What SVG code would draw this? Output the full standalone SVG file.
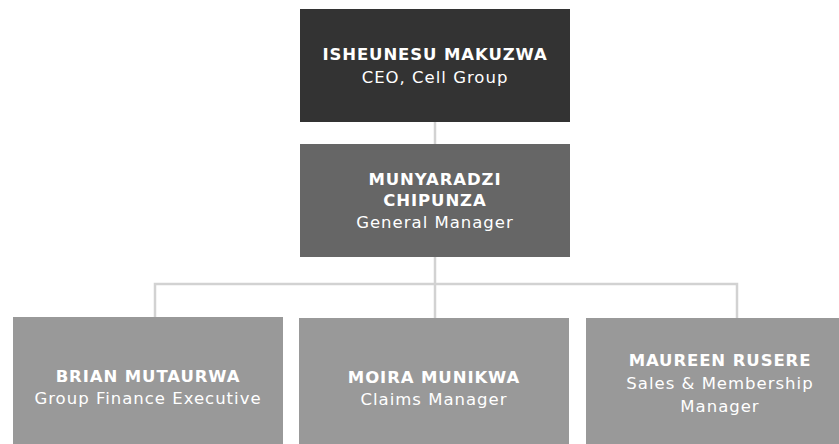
<svg xmlns="http://www.w3.org/2000/svg" width="839" height="444" viewBox="0 0 839 444">
<style>
.n{font-family:"DejaVu Sans","Liberation Sans",sans-serif;font-size:16.5px;font-weight:bold;fill:#ffffff;text-anchor:middle;letter-spacing:0.9px}
.t{font-family:"DejaVu Sans","Liberation Sans",sans-serif;font-size:16.5px;fill:#ffffff;text-anchor:middle;letter-spacing:1px}
.c{fill:none;stroke:#d2d2d2;stroke-width:2.5}
</style>
<rect width="839" height="444" fill="#ffffff"/>
<g id="connectors">
<line class="c" x1="435" y1="122" x2="435" y2="144"/>
<line class="c" x1="435" y1="257" x2="435" y2="318"/>
<polyline class="c" points="155,318 155,284 737,284 737,318"/>
</g>
<g id="ceo">
<rect x="300" y="9" width="270" height="113" fill="#333333"/>
<text class="n" x="435" y="60">ISHEUNESU MAKUZWA</text>
<text class="t" x="435" y="83">CEO, Cell Group</text>
</g>
<g id="gm">
<rect x="300" y="144" width="270" height="113" fill="#666666"/>
<text class="n" x="435" y="185">MUNYARADZI</text>
<text class="n" x="435" y="206">CHIPUNZA</text>
<text class="t" x="435" y="228">General Manager</text>
</g>
<g id="finance">
<rect x="13" y="317" width="270" height="127" fill="#999999"/>
<text class="n" x="148" y="382">BRIAN MUTAURWA</text>
<text class="t" x="148" y="404">Group Finance Executive</text>
</g>
<g id="claims">
<rect x="299" y="318" width="270" height="126" fill="#999999"/>
<text class="n" x="434" y="383">MOIRA MUNIKWA</text>
<text class="t" x="434" y="405">Claims Manager</text>
</g>
<g id="sales">
<rect x="586" y="318" width="270" height="126" fill="#999999"/>
<text class="n" x="720" y="366">MAUREEN RUSERE</text>
<text class="t" x="720" y="389">Sales &amp; Membership</text>
<text class="t" x="720" y="412">Manager</text>
</g>
</svg>
